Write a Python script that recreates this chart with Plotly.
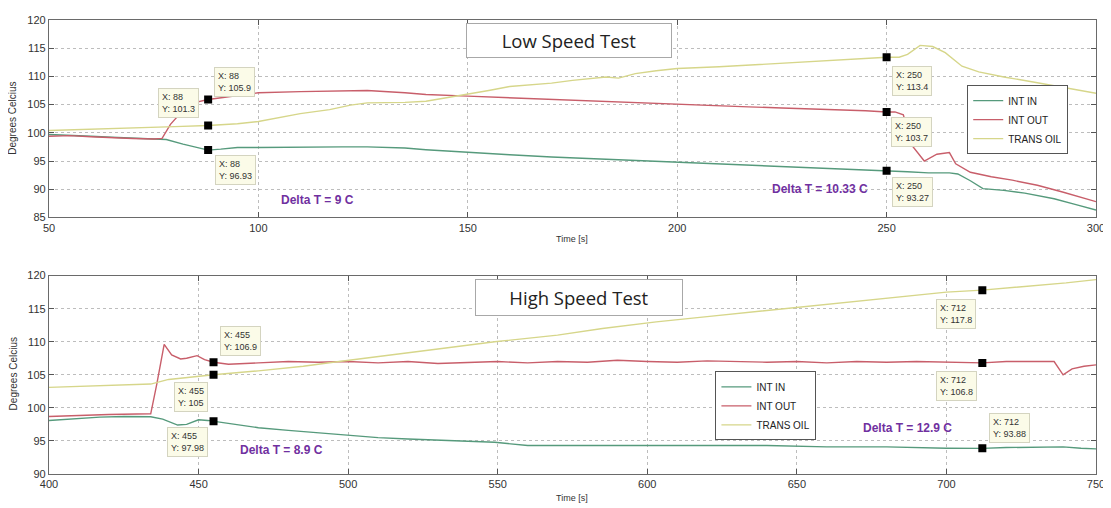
import plotly.graph_objects as go

# ---------------- DATA ----------------
series_names = ["INT IN", "INT OUT", "TRANS OIL"]

# Low speed test (top)
low_in_t = [50, 55, 60, 65, 70, 75, 78, 82, 85, 88, 91, 95, 100, 110, 120, 126, 135, 140, 150, 160, 170, 180,
            190, 200, 210, 217, 225, 235, 245, 250, 255, 260, 265, 267, 270, 273, 278, 283, 290, 295, 300]
low_in_v = [99.7, 99.6, 99.4, 99.2, 99.0, 98.9, 98.8, 98.0, 97.4, 96.93, 97.1, 97.4, 97.4, 97.5, 97.5, 97.5, 97.3,
            97.0, 96.5, 96.1, 95.7, 95.4, 95.1, 94.8, 94.5, 94.3, 94.1, 93.8, 93.5, 93.27, 93.1, 92.9, 92.9, 92.7,
            91.5, 90.1, 89.8, 89.3, 88.3, 87.3, 86.3]

low_out_t = [50, 55, 60, 65, 70, 75, 77, 79, 82, 85, 88, 92, 97, 100, 110, 120, 126, 135, 140, 150, 160, 170, 180,
             190, 200, 210, 217, 225, 235, 245, 250, 252, 254, 256, 259, 262, 265, 266.5, 270, 275, 280, 286, 292, 300]
low_out_v = [99.4, 99.5, 99.3, 99.1, 99.0, 98.9, 99.0, 101.5, 104.0, 105.4, 105.9, 106.3, 106.8, 107.1, 107.3,
             107.4, 107.5, 107.1, 106.8, 106.5, 106.2, 105.9, 105.6, 105.3, 105.0, 104.8, 104.6, 104.4, 104.2,
             103.9, 103.7, 103.7, 103.2, 97.8, 95.0, 96.2, 96.5, 94.5, 93.0, 92.2, 91.6, 90.7, 89.5, 87.8]

low_oil_t = [50, 60, 70, 80, 88, 95, 100, 105, 110, 117, 122, 126, 135, 140, 145, 150, 155, 160, 170, 175, 183, 186,
             190, 195, 200, 210, 217, 225, 235, 245, 250, 253, 255, 258, 261, 264, 268, 272, 278, 285, 292, 300]
low_oil_v = [100.4, 100.6, 100.8, 101.1, 101.3, 101.6, 102.0, 102.7, 103.4, 104.1, 104.9, 105.3, 105.4, 105.6,
             106.2, 106.9, 107.5, 108.2, 108.8, 109.3, 109.9, 109.7, 110.5, 111.0, 111.4, 111.7, 112.0, 112.3,
             112.8, 113.2, 113.4, 113.4, 113.9, 115.5, 115.3, 114.2, 111.8, 110.8, 109.9, 109.0, 108.1, 107.0]

# High speed test (bottom)
high_in_t = [400, 410, 417, 425, 434, 438, 443, 446, 450, 453, 455, 460, 470, 480, 490, 500, 510, 520, 530, 549,
             560, 570, 580, 590, 600, 620, 640, 660, 680, 700, 712, 720, 730, 739, 745, 750]
high_in_v = [98.1, 98.4, 98.6, 98.7, 98.66, 98.3, 97.4, 97.5, 98.2, 98.1, 97.98, 97.6, 97.0, 96.6, 96.2, 95.9,
             95.5, 95.3, 95.1, 94.8, 94.3, 94.3, 94.3, 94.3, 94.2, 94.3, 94.3, 94.1, 94.1, 93.9, 93.88, 94.0,
             94.1, 94.1, 93.9, 93.8]

high_out_t = [400, 410, 420, 434, 436, 438.5, 441, 444, 446, 449.5, 452, 455, 460, 470, 480, 490, 500, 510, 520,
              530, 540, 550, 560, 570, 580, 590, 600, 610, 620, 630, 640, 650, 660, 670, 680, 690, 700, 712, 720,
              730, 736, 739, 742, 746, 750]
high_out_v = [98.7, 98.9, 99.0, 99.1, 103.5, 109.6, 108.0, 107.4, 107.5, 107.9, 107.3, 106.9, 106.6, 106.8, 107.0,
              106.9, 107.0, 106.8, 107.0, 106.7, 106.9, 107.0, 106.8, 107.0, 106.9, 107.2, 107.0, 106.9, 107.1,
              107.0, 106.9, 107.0, 106.8, 107.0, 106.9, 107.0, 106.9, 106.8, 107.0, 107.0, 107.0, 105.0, 105.9,
              106.3, 106.5]

high_oil_t = [400, 415, 430, 434, 440, 446, 455, 470, 485, 495, 510, 530, 549, 570, 585, 603, 620, 640, 650, 665,
              680, 700, 712, 725, 740, 750]
high_oil_v = [103.1, 103.3, 103.5, 103.6, 104.3, 104.6, 105.0, 105.6, 106.3, 106.9, 107.8, 108.9, 110.0, 111.0,
              112.0, 113.0, 113.8, 114.7, 115.2, 115.9, 116.5, 117.5, 117.8, 118.3, 118.9, 119.4]

# Data tips
low_tip_x = [88, 88, 88, 250, 250, 250]
low_tip_y = [105.9, 101.3, 96.93, 113.4, 103.7, 93.27]
high_tip_x = [455, 455, 455, 712, 712, 712]
high_tip_y = [106.9, 105, 97.98, 117.8, 106.8, 93.88]

# Delta T labels
low_delta_text = ["Delta T = 9 C", "Delta T = 10.33 C"]
high_delta_text = ["Delta T = 8.9 C", "Delta T = 12.9 C"]

x_ticks_low = [50, 100, 150, 200, 250, 300]
y_ticks_low = [85, 90, 95, 100, 105, 110, 115, 120]
x_ticks_high = [400, 450, 500, 550, 600, 650, 700, 750]
y_ticks_high = [90, 95, 100, 105, 110, 115, 120]

# ---------------- STYLE ----------------
colors = ["#569a7c", "#c85e6a", "#d6d68a"]
FONT = "Liberation Sans, Arial, sans-serif"

# pixel offsets for data-tip boxes (dx, dy up)
low_tip_off = [(26, 18), (-30, 22), (27, -20), (25, -24), (25, -20), (26, -21)]
high_tip_off = [(27, 21), (-23, -22), (-26, -21), (-26, -24), (-26, -23), (27, 20)]
low_delta_pos = [(114, 88.15), (234, 90.1)]
high_delta_pos = [(477.8, 93.6), (687, 96.9)]

fig = go.Figure()

low_data = [(low_in_t, low_in_v), (low_out_t, low_out_v), (low_oil_t, low_oil_v)]
high_data = [(high_in_t, high_in_v), (high_out_t, high_out_v), (high_oil_t, high_oil_v)]

for i, (t, v) in enumerate(low_data):
    fig.add_trace(go.Scatter(x=t, y=v, mode="lines", name=series_names[i],
                             line=dict(color=colors[i], width=1.4), xaxis="x", yaxis="y", legend="legend"))
for i, (t, v) in enumerate(high_data):
    fig.add_trace(go.Scatter(x=t, y=v, mode="lines", name=series_names[i],
                             line=dict(color=colors[i], width=1.4), xaxis="x2", yaxis="y2", legend="legend2"))

fig.add_trace(go.Scatter(x=low_tip_x, y=low_tip_y, mode="markers", showlegend=False,
                         marker=dict(symbol="square", size=8, color="black"), xaxis="x", yaxis="y"))
fig.add_trace(go.Scatter(x=high_tip_x, y=high_tip_y, mode="markers", showlegend=False,
                         marker=dict(symbol="square", size=8, color="black"), xaxis="x2", yaxis="y2"))

annotations = []


def fmt(v):
    return ("%g" % v)


for (tx, ty, (dx, dy)) in zip(low_tip_x, low_tip_y, low_tip_off):
    annotations.append(dict(x=tx, y=ty, xref="x", yref="y", showarrow=False, xshift=dx, yshift=dy,
                            text="X: %s<br>Y: %s" % (fmt(tx), fmt(ty)), align="left",
                            font=dict(family=FONT, size=9, color="#333333"),
                            bgcolor="#fbfbe8", bordercolor="#d4d4c0", borderwidth=1, borderpad=3))
for (tx, ty, (dx, dy)) in zip(high_tip_x, high_tip_y, high_tip_off):
    annotations.append(dict(x=tx, y=ty, xref="x2", yref="y2", showarrow=False, xshift=dx, yshift=dy,
                            text="X: %s<br>Y: %s" % (fmt(tx), fmt(ty)), align="left",
                            font=dict(family=FONT, size=9, color="#333333"),
                            bgcolor="#fbfbe8", bordercolor="#d4d4c0", borderwidth=1, borderpad=3))

for txt, (px, py) in zip(low_delta_text, low_delta_pos):
    annotations.append(dict(x=px, y=py, xref="x", yref="y", showarrow=False, text="<b>%s</b>" % txt,
                            font=dict(family=FONT, size=12, color="#7030a0")))
for txt, (px, py) in zip(high_delta_text, high_delta_pos):
    annotations.append(dict(x=px, y=py, xref="x2", yref="y2", showarrow=False, text="<b>%s</b>" % txt,
                            font=dict(family=FONT, size=12, color="#7030a0")))

# Title boxes
annotations.append(dict(x=174.2, y=116.3, xref="x", yref="y", showarrow=False, text="Low Speed Test",
                        font=dict(family="Open Sans", size=18.5, color="#222222"), width=202, height=31,
                        bgcolor="white", bordercolor="#a8a8a8", borderwidth=1, borderpad=1))
annotations.append(dict(x=577.2, y=116.7, xref="x2", yref="y2", showarrow=False, text="High Speed Test",
                        font=dict(family="Open Sans", size=18.5, color="#222222"), width=204, height=33,
                        bgcolor="white", bordercolor="#a8a8a8", borderwidth=1, borderpad=1))

# Axis titles
for yy in [0.5174, -0.052]:
    annotations.append(dict(x=0.4995, y=yy, xref="paper", yref="paper", showarrow=False, text="Time [s]",
                            xanchor="center", yanchor="middle",
                            font=dict(family=FONT, size=9, color="#333333")))
for yy in [0.7826, 0.2196]:
    annotations.append(dict(x=-0.0343, y=yy, xref="paper", yref="paper", showarrow=False,
                            text="Degrees Celcius", textangle=-90, xanchor="center", yanchor="middle",
                            font=dict(family=FONT, size=10, color="#333333")))

axis_common = dict(showline=True, linecolor="#6a6a6a", linewidth=1.3, mirror="allticks",
                   ticks="inside", ticklen=5, tickcolor="#555555", tickwidth=1.3,
                   showgrid=True, gridcolor="#bdbdbd", griddash="dot", gridwidth=1,
                   zeroline=False, tickfont=dict(family=FONT, size=11, color="#333333"))

fig.update_layout(
    width=1103, height=500,
    margin=dict(l=41, r=10, t=6, b=34),
    paper_bgcolor="white", plot_bgcolor="white",
    xaxis=dict(domain=[0, 1], anchor="y", range=[50, 300], tickvals=x_ticks_low, **axis_common),
    yaxis=dict(domain=[0.5652, 1], anchor="x", range=[85, 120], tickvals=y_ticks_low, **axis_common),
    xaxis2=dict(domain=[0, 1], anchor="y2", range=[400, 750], tickvals=x_ticks_high, **axis_common),
    yaxis2=dict(domain=[0, 0.437], anchor="x2", range=[90, 120], tickvals=y_ticks_high, **axis_common),
    legend=dict(x=0.877, y=0.8565, xanchor="left", yanchor="top", bgcolor="white",
                bordercolor="#555555", borderwidth=1, font=dict(family=FONT, size=10, color="#222222"),
                tracegroupgap=0, itemwidth=30),
    legend2=dict(x=0.6365, y=0.226, xanchor="left", yanchor="top", bgcolor="white",
                 bordercolor="#555555", borderwidth=1, font=dict(family=FONT, size=10, color="#222222"),
                 tracegroupgap=0, itemwidth=30),
    annotations=annotations,
    showlegend=True,
)

fig.write_html("out.html")
